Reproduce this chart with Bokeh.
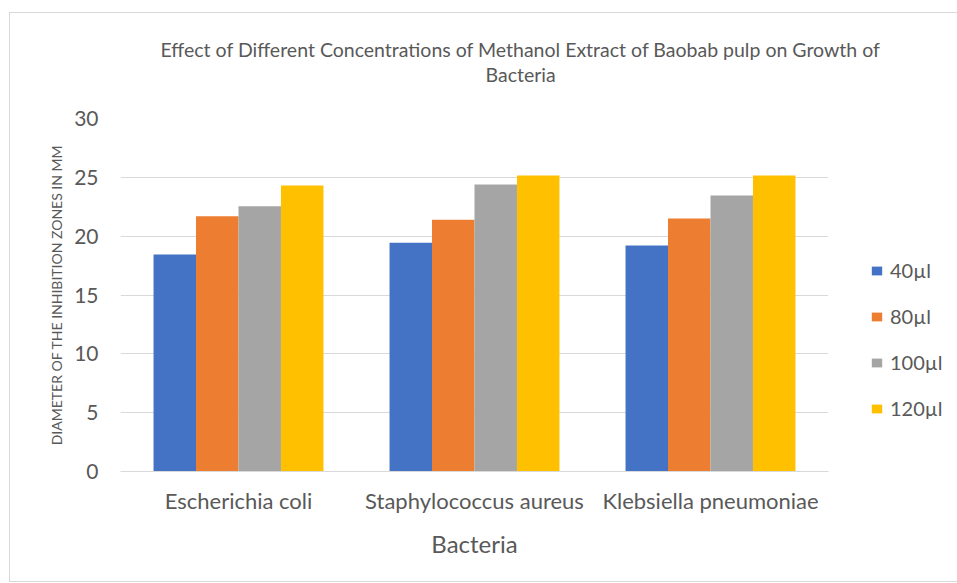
from bokeh.plotting import figure
from bokeh.models import ColumnDataSource, Range1d, FactorRange, Legend, LegendItem, Title, FixedTicker
from bokeh.transform import dodge
from bokeh.embed import file_html
from bokeh.resources import INLINE

bacteria = ["Escherichia coli", "Staphylococcus aureus", "Klebsiella pneumoniae"]
series_names = ["40µl", "80µl", "100µl", "120µl"]
v40 = [18.45, 19.45, 19.2]
v80 = [21.7, 21.4, 21.5]
v100 = [22.55, 24.4, 23.45]
v120 = [24.3, 25.15, 25.15]
colors = ["#4472C4", "#ED7D31", "#A5A5A5", "#FFC000"]
y_ticks = [0, 5, 10, 15, 20, 25, 30]
title_lines = ["Effect of Different Concentrations of Methanol Extract of Baobab pulp on Growth of",
               "Bacteria"]

FONT = "Lato"
GREY = "#595959"

src = ColumnDataSource(dict(bact=bacteria, s40=v40, s80=v80, s100=v100, s120=v120))

p = figure(frame_width=708, frame_height=353, x_range=FactorRange(*bacteria), y_range=Range1d(0, 30),
           output_backend="svg", toolbar_location=None,
           min_border_left=110, min_border_right=128, min_border_top=105, min_border_bottom=110)
p.styles = {"border": "1px solid #d9d9d9", "margin": "12px 0px 0px 9px"}

offsets = [-0.27, -0.09, 0.09, 0.27]
keys = ["s40", "s80", "s100", "s120"]
renderers = []
for k, off, c in zip(keys, offsets, colors):
    r = p.vbar(x=dodge("bact", off, range=p.x_range), top=k, width=0.18, source=src,
               fill_color=c, line_color=None)
    renderers.append(r)

# axes
p.yaxis.ticker = FixedTicker(ticks=y_ticks)
p.yaxis.axis_line_color = None
p.yaxis.major_tick_line_color = None
p.yaxis.minor_tick_line_color = None
p.yaxis.major_label_text_font = FONT
p.yaxis.major_label_text_font_size = "21px"
p.yaxis.major_label_text_color = GREY
p.yaxis.major_label_standoff = 16
p.yaxis.axis_label = "DIAMETER OF THE INHIBITION ZONES IN MM"
p.yaxis.axis_label_text_font = FONT
p.yaxis.axis_label_text_font_size = "14px"
p.yaxis.axis_label_text_font_style = "normal"
p.yaxis.axis_label_text_color = GREY
p.yaxis.axis_label_standoff = 6

p.xaxis.axis_line_color = "#d9d9d9"
p.xaxis.major_tick_line_color = None
p.xaxis.minor_tick_line_color = None
p.xaxis.major_label_text_font = FONT
p.xaxis.major_label_text_font_size = "22px"
p.xaxis.major_label_text_color = GREY
p.xaxis.major_label_standoff = 9
p.xaxis.axis_label = "Bacteria"
p.xaxis.axis_label_text_font = FONT
p.xaxis.axis_label_text_font_size = "24px"
p.xaxis.axis_label_text_font_style = "normal"
p.xaxis.axis_label_text_color = GREY
p.xaxis.axis_label_standoff = 12

p.xgrid.grid_line_color = None
p.ygrid.grid_line_color = "#d9d9d9"
p.ygrid.grid_line_width = 1
p.outline_line_color = None

# title: spacer, then line 2, then line 1 (stacked outward from the frame)
p.add_layout(Title(text=" ", standoff=30, text_font_size="1px"), "above")
p.add_layout(Title(text=title_lines[1], align="left", offset=365, standoff=0,
                   text_font=FONT, text_font_size="19.5px", text_font_style="normal",
                   text_color=GREY), "above")
p.add_layout(Title(text=title_lines[0], align="left", offset=40, standoff=0,
                   text_font=FONT, text_font_size="19.5px", text_font_style="normal",
                   text_color=GREY), "above")

legend = Legend(items=[LegendItem(label=n, renderers=[r]) for n, r in zip(series_names, renderers)],
                location=(42, 51), margin=0, padding=0, border_line_color=None,
                background_fill_alpha=0, label_text_font=FONT, label_text_font_size="20px",
                label_text_color=GREY, glyph_width=13, glyph_height=11, label_height=20,
                spacing=22, label_standoff=7)
p.add_layout(legend, "right")

open("out.html", "w").write(file_html(p, INLINE))
